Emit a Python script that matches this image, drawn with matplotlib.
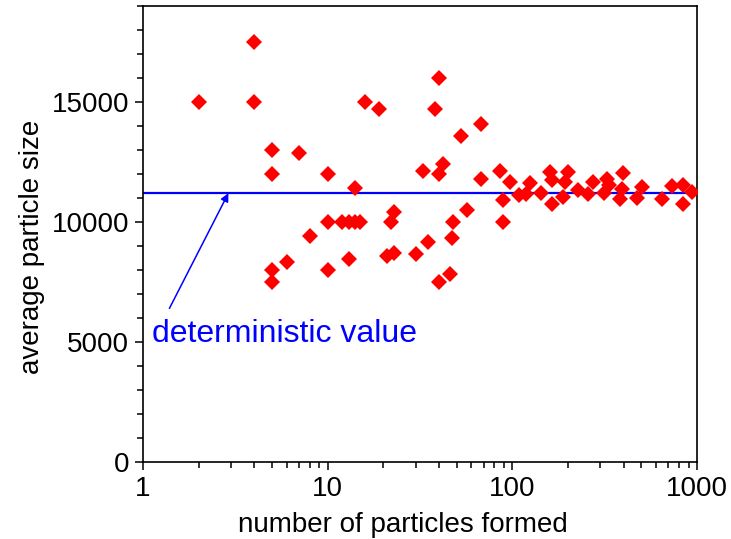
import matplotlib
matplotlib.use("Agg")
import matplotlib.pyplot as plt
from matplotlib import ticker

plt.rcParams['font.family'] = ['Liberation Sans', 'DejaVu Sans']

# number of particles formed
particles = [2, 4, 4, 5, 5, 5, 5, 6, 7, 8, 10, 10, 10, 12, 13, 13, 14, 14, 15,
             16, 19, 21, 22, 23, 23, 30, 33, 35, 38, 40, 40, 40, 42, 46, 47, 48,
             53, 57, 68, 68, 86, 89, 89, 97,
             108, 118, 125, 143, 160, 163, 165, 188, 193, 200, 228, 258, 274,
             327, 335, 313, 399, 391, 382, 505, 471, 648, 730, 843, 840, 935]
# average particle size
avg_size = [15000, 17500, 15000, 13000, 12000, 8000, 7500, 8330, 12870, 9400,
            12000, 10000, 8000, 10000, 10000, 8470, 10000, 11420, 10000,
            15000, 14720, 8600, 10000, 10420, 8720, 8680, 12120, 9150, 14720,
            16000, 12000, 7500, 12400, 7820, 9350, 10000,
            13600, 10520, 14100, 11780, 12120, 10900, 10000, 11680,
            11125, 11150, 11630, 11200, 12100, 11750, 10730, 11050, 11680, 12100,
            11330, 11150, 11650, 11800, 11550, 11200, 12060, 11370, 10950, 11470,
            10980, 10970, 11500, 11530, 10770, 11270]

deterministic_value = 11200
annotation_text = "deterministic value"
x_ticks = [1, 10, 100, 1000]
y_ticks = [0, 5000, 10000, 15000]

fig = plt.figure(figsize=(7.31, 5.39), dpi=100)
ax = fig.add_axes([143/731, 1-462/539, (697-143)/731, (462-6)/539])

ax.plot(particles, avg_size, linestyle='none', marker='D', markersize=8,
        color='#ff0000', markeredgewidth=0, zorder=3)
ax.axhline(deterministic_value, color='#0000ff', linewidth=1.6, zorder=2)

ax.annotate('', xy=(2.9, deterministic_value), xytext=(1.39, 6400),
            arrowprops=dict(arrowstyle='-|>', color='#0000ff', lw=1.1,
                            mutation_scale=12, shrinkA=0, shrinkB=0))
ax.text(1.12, 5000, annotation_text, color='#0000ff', fontsize=23,
        ha='left', va='baseline')

ax.set_xscale('log')
ax.set_xlim(1, 1000)
ax.set_ylim(0, 19000)
ax.set_xticks(x_ticks)
ax.xaxis.set_major_formatter(ticker.FuncFormatter(lambda v, p: f"{int(round(v))}"))
ax.xaxis.set_minor_locator(ticker.LogLocator(base=10, subs=range(2, 10)))
ax.xaxis.set_minor_formatter(ticker.NullFormatter())
ax.set_yticks(y_ticks)
ax.yaxis.set_major_formatter(ticker.FuncFormatter(lambda v, p: f"{int(v)}"))
ax.yaxis.set_minor_locator(ticker.MultipleLocator(1000))

ax.tick_params(which='major', direction='out', length=6, width=1.1,
               labelsize=20, colors='black', pad=4)
ax.tick_params(which='minor', direction='out', length=4.5, width=1.1)
for s in ax.spines.values():
    s.set_linewidth(1.2)

ax.set_xlabel('number of particles formed', fontsize=20)
ax.set_ylabel('average particle size', fontsize=20, labelpad=5)
ax.xaxis.set_label_coords(0.469, -0.11)
ax.yaxis.label.set_y(0.471)

fig.savefig('out.png', dpi=100)
